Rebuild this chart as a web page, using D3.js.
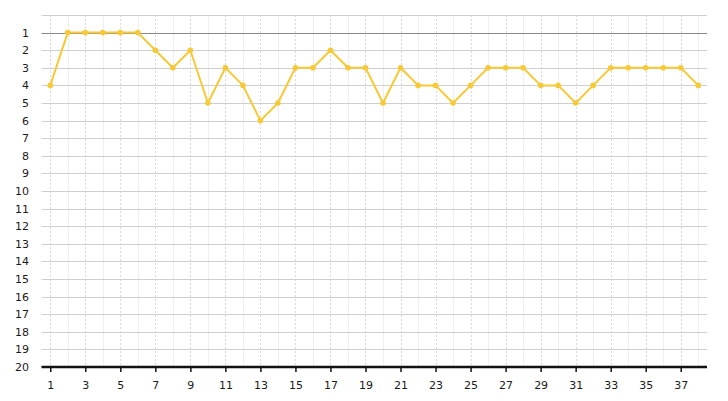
<!DOCTYPE html>
<html><head><meta charset="utf-8">
<script src="https://cdn.jsdelivr.net/npm/d3@7"></script>
<style>body{margin:0;background:#fff}svg{display:block}text{font-family:"DejaVu Sans",Verdana,sans-serif;font-size:11px;fill:#1a1a1a}</style>
</head><body><svg id="c" width="728" height="401"></svg>
<script>
const rounds = d3.range(1, 39);
const positions = [4,1,1,1,1,1,2,3,2,5,3,4,6,5,3,3,2,3,3,5,3,4,4,5,4,3,3,3,4,4,5,4,3,3,3,3,3,4];
const yTicks = d3.range(1, 21);
const xTicks = d3.range(1, 39, 2);

const svg = d3.select("#c");
const L = 41.5, R = 707, T = 15, B = 367;
const x = d3.scaleLinear().domain([0.5, 38.5]).range([L, R]);
const y = d3.scaleLinear().domain([0, 20]).range([T, B]);

// vertical grid: odd rounds dashed, even rounds faint solid
svg.append("g").selectAll("line").data(rounds).join("line")
  .attr("x1", d => Math.round(x(d))+0.5).attr("x2", d => Math.round(x(d))+0.5).attr("y1", T).attr("y2", B)
  .attr("stroke", d => d % 2 ? "#d9d9d9" : "#eeeeee")
  .attr("stroke-dasharray", d => d % 2 ? "2,2" : null);
// horizontal grid
svg.append("g").selectAll("line").data(d3.range(0, 20)).join("line")
  .attr("x1", L).attr("x2", R).attr("y1", d => Math.round(y(d))+0.5).attr("y2", d => Math.round(y(d))+0.5)
  .attr("stroke", d => d === 1 ? "#8a8a8a" : "#cfcfcf").attr("stroke-width", 1);

// y labels
svg.append("g").selectAll("text").data(yTicks).join("text")
  .attr("x", 29).attr("y", d => y(d)).attr("dy", "0.36em").attr("text-anchor", "end").text(d => d);

// x axis
const xAxis = d3.axisBottom(x).tickValues(xTicks).tickSize(5).tickPadding(9).tickFormat(d3.format("d"));
const gx = svg.append("g").attr("transform", `translate(0,${B})`).call(xAxis);
gx.select(".domain").remove();
gx.selectAll(".tick line").attr("stroke", "#111").attr("stroke-width", 1.5);
gx.selectAll(".tick text").style("font-family", '"DejaVu Sans",Verdana,sans-serif').style("font-size", "11px").attr("fill", "#1a1a1a");
svg.append("line").attr("x1", L).attr("x2", R).attr("y1", B).attr("y2", B).attr("stroke", "#111").attr("stroke-width", 2.5);

// line
const line = d3.line().x((d, i) => x(rounds[i])).y(d => y(d));
svg.append("path").datum(positions).attr("d", line).attr("fill", "none")
  .attr("stroke", "#f7c936").attr("stroke-width", 2).attr("stroke-linejoin", "round");
svg.append("g").selectAll("circle").data(positions).join("circle")
  .attr("cx", (d, i) => x(rounds[i])).attr("cy", d => y(d)).attr("r", 2.8).attr("fill", "#f7c936");
</script></body></html>
